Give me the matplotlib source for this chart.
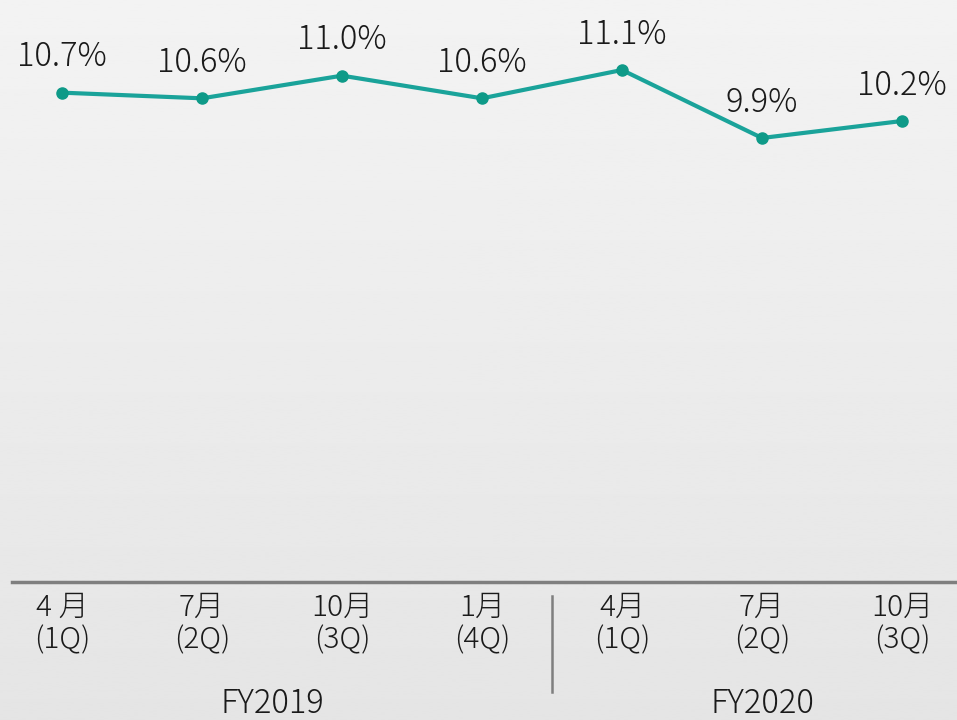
import matplotlib.pyplot as plt
import matplotlib.transforms as mtransforms
import numpy as np

plt.rcParams['font.family'] = ['Noto Sans CJK JP', 'DejaVu Sans']
plt.rcParams['font.weight'] = 'light'

# data
months = ['4 月', '7月', '10月', '1月', '4月', '7月', '10月']
quarters = ['(1Q)', '(2Q)', '(3Q)', '(4Q)', '(1Q)', '(2Q)', '(3Q)']
values = [10.7, 10.6, 11.0, 10.6, 11.1, 9.9, 10.2]
labels = ['10.7%', '10.6%', '11.0%', '10.6%', '11.1%', '9.9%', '10.2%']
years = ['FY2019', 'FY2020']
year_centers = [1.5, 5.0]

W, H = 957, 720
fig = plt.figure(figsize=(W / 100, H / 100), dpi=100)

# background gradient
bg = fig.add_axes([0, 0, 1, 1], zorder=0)
grad = np.linspace(0.952, 0.897, 256).reshape(-1, 1)
bg.imshow(grad, aspect='auto', cmap='gray', vmin=0, vmax=1, extent=[0, 1, 0, 1])
bg.axis('off')

axis_y = 582  # pixel row of the axis line
ax = fig.add_axes([0, (H - axis_y) / H, 1, axis_y / H], zorder=1)
ax.patch.set_alpha(0)

x = np.arange(len(values))
ax.plot(x, values, color='#1aa39a', lw=3, marker='o', ms=8,
        mfc='#0e9a88', mec='#0e9a88', solid_capstyle='round')
for xi, v, t in zip(x, values, labels):
    ax.annotate(t, (xi, v), xytext=(0, 19), textcoords='offset points',
                ha='center', va='baseline', fontsize=23.5, color='#1a1a1a')

ax.set_xlim(-62 / 140, (W - 62) / 140)
ax.set_ylim(2.065, 12.335)
ax.set_xticks([])
ax.set_yticks([])
for s in ['top', 'left', 'right']:
    ax.spines[s].set_visible(False)
ax.spines['bottom'].set_color('#7f7f7f')
ax.spines['bottom'].set_linewidth(2.5)
ax.spines['bottom'].set_bounds(-50 / 140, (W - 62) / 140)


def frac(ypix):
    return (axis_y - ypix) / axis_y


tr = mtransforms.blended_transform_factory(ax.transData, ax.transAxes)
for xi, m, q in zip(x, months, quarters):
    ax.text(xi, frac(616), m, transform=tr, ha='center', va='baseline',
            fontsize=21.5, color='#1a1a1a', clip_on=False)
    ax.text(xi, frac(648), q, transform=tr, ha='center', va='baseline',
            fontsize=21.5, color='#1a1a1a', clip_on=False)
for xc, yr in zip(year_centers, years):
    ax.text(xc, frac(713), yr, transform=tr, ha='center', va='baseline',
            fontsize=23.5, color='#1a1a1a', clip_on=False)

ax.plot([3.5, 3.5], [frac(596), frac(692)], transform=tr, color='#7f7f7f',
        lw=1.8, clip_on=False)

fig.savefig('out.png', dpi=100)
